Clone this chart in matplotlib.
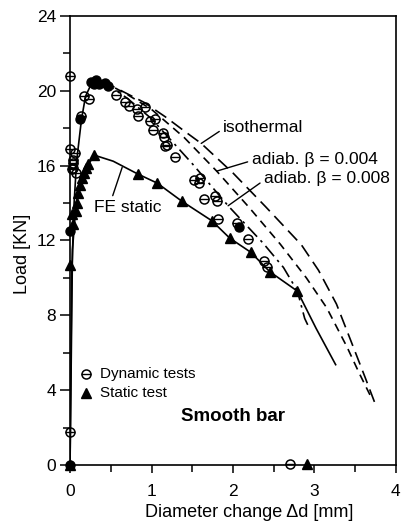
import matplotlib.pyplot as plt
from matplotlib.ticker import MultipleLocator

plt.rcParams['font.family'] = ['Liberation Sans', 'DejaVu Sans']

# dynamic tests, open circles (diameter change mm, load kN)
dyn_x = [0.0, 0.0, 0.04, 0.04, 0.0, 0.06, 0.04, 0.03, 0.07, 0.13, 0.17, 0.23,
         0.56, 0.68, 0.72, 0.82, 0.84, 0.92, 0.98, 1.04, 1.02, 1.14, 1.15, 1.17,
         1.19, 1.29, 1.52, 1.60, 1.58, 1.65, 1.78, 1.80, 1.81, 2.05, 2.19, 2.38,
         2.42, 2.70]
dyn_y = [20.8, 1.75, 15.87, 16.3, 16.9, 16.68, 16.15, 15.8, 15.6, 18.66, 19.69, 19.54,
         19.75, 19.38, 19.19, 19.03, 18.67, 19.1, 18.37, 18.48, 17.92, 17.76, 17.54, 17.04,
         17.09, 16.48, 15.24, 15.31, 15.04, 14.23, 14.38, 14.11, 13.13, 12.91, 12.08, 10.88,
         10.6, 0.05]
# dynamic tests that print as dark blobs
dynf_x = [0.0, 0.0, 0.12, 0.26, 0.30, 0.32, 0.36, 0.43, 0.47, 2.07]
dynf_y = [0.0, 12.5, 18.5, 20.48, 20.35, 20.55, 20.36, 20.43, 20.25, 12.72]

# static test triangles
stat_x = [0.0, 0.0, 0.04, 0.02, 0.07, 0.09, 0.10, 0.125, 0.15, 0.17, 0.20, 0.22,
          0.30, 0.83, 1.07, 1.37, 1.74, 1.96, 2.22, 2.45, 2.79, 2.91]
stat_y = [0.0, 10.7, 12.85, 13.4, 13.56, 14.0, 14.53, 14.97, 15.32, 15.59, 15.85, 16.1,
          16.55, 15.55, 15.06, 14.11, 13.05, 12.12, 11.36, 10.33, 9.29, 0.05]

# FE static
fe_x = [0.0, 0.03, 0.07, 0.12, 0.20, 0.30, 0.53, 0.83, 1.07, 1.37, 1.74, 1.96,
        2.22, 2.45, 2.79, 3.02, 3.26]
fe_y = [0.0, 11.5, 13.8, 15.0, 15.9, 16.55, 16.23, 15.55, 15.06, 14.1, 13.05, 12.12,
        11.36, 10.33, 9.29, 7.3, 5.36]

# rising branch shared by the dynamic FE runs
rise_x = [0.0, 0.02, 0.05, 0.08, 0.14, 0.19, 0.26, 0.40]
rise_y = [0.0, 10.0, 14.0, 16.2, 18.45, 19.7, 20.35, 20.5]

iso_x = [0.40, 0.65, 0.91, 1.17, 1.40, 1.61, 2.00, 2.40, 2.84, 3.05, 3.27, 3.45, 3.62, 3.76]
iso_y = [20.5, 19.95, 19.37, 18.6, 17.85, 17.18, 15.6, 13.8, 11.76, 10.4, 8.6, 6.6, 4.7, 3.1]

a004_x = [0.40, 0.70, 1.00, 1.40, 1.80, 2.20, 2.58, 2.90, 3.15, 3.40, 3.55, 3.70]
a004_y = [20.5, 19.8, 19.0, 17.5, 15.7, 13.75, 11.8, 10.0, 8.4, 6.3, 4.9, 3.58]

a008_x = [0.40, 0.70, 1.00, 1.50, 1.94, 2.37, 2.62, 2.79, 2.88, 2.94]
a008_y = [20.5, 19.6, 18.5, 16.1, 13.85, 11.85, 10.55, 9.3, 7.83, 7.28]

fig = plt.figure(figsize=(4.12, 5.26), dpi=100)
ax = fig.add_axes([0.170, 0.116, 0.791, 0.854])

lw = 1.2
ax.plot(fe_x, fe_y, color='k', lw=lw)
ax.plot(rise_x, rise_y, color='k', lw=lw)
ax.plot(iso_x, iso_y, color='k', lw=lw, dashes=(8, 4))
ax.plot(a004_x, a004_y, color='k', lw=lw, dashes=(5, 3.5))
ax.plot(a008_x, a008_y, color='k', lw=lw, dashes=(8, 3, 1.5, 3))

ax.plot(dyn_x, dyn_y, 'o', ms=6.5, mfc='none', mec='k', mew=1.1, clip_on=False, zorder=4)
ax.plot(dyn_x, dyn_y, '_', ms=6.5, color='k', mew=1.0, clip_on=False, zorder=4)
ax.plot(dynf_x, dynf_y, 'o', ms=6.5, color='k', clip_on=False, zorder=4)
ax.plot(stat_x, stat_y, '^', ms=6.5, color='k', clip_on=False, zorder=5)

# labels on the curves
arrow = dict(arrowstyle='-', lw=1.0, color='k', shrinkA=1, shrinkB=0)
ax.annotate('isothermal', xy=(1.61, 17.18), xytext=(1.88, 17.8), fontsize=12.5,
            va='baseline', arrowprops=dict(arrow, relpos=(0, 0.4)))
ax.annotate('adiab. β = 0.004', xy=(1.80, 15.7), xytext=(2.23, 16.1), fontsize=12.5,
            va='baseline', arrowprops=dict(arrow, relpos=(0, 0.4)))
ax.annotate('adiab. β = 0.008', xy=(1.94, 13.85), xytext=(2.38, 15.05), fontsize=12.5,
            va='baseline', arrowprops=dict(arrow, relpos=(0, 0.4)))
ax.annotate('FE static', xy=(0.64, 15.9), xytext=(0.30, 13.53), fontsize=12.5,
            va='baseline', arrowprops=dict(arrow, relpos=(0.25, 1.0)))
ax.text(1.36, 2.36, 'Smooth bar', fontsize=13.5, fontweight='bold', va='baseline')

# legend drawn by hand, like the original
ax.plot([0.2], [4.88], 'o', ms=6.5, mfc='none', mec='k', mew=1.1)
ax.plot([0.2], [4.88], '_', ms=6.5, color='k', mew=1.0)
ax.plot([0.2], [3.82], '^', ms=6.5, color='k')
ax.text(0.37, 4.88, 'Dynamic tests', fontsize=11, va='center')
ax.text(0.37, 3.82, 'Static test', fontsize=11, va='center')

ax.set_xlim(0, 4)
ax.set_ylim(0, 24)
ax.xaxis.set_major_locator(MultipleLocator(1))
ax.xaxis.set_minor_locator(MultipleLocator(0.5))
ax.yaxis.set_major_locator(MultipleLocator(4))
ax.yaxis.set_minor_locator(MultipleLocator(2))
ax.tick_params(axis='x', which='major', direction='out', length=6, width=1.1, pad=8, labelsize=12.5)
ax.tick_params(axis='x', which='minor', direction='out', length=5, width=1.1)
ax.tick_params(axis='y', which='major', direction='out', length=7, width=1.1, pad=3, labelsize=12.5)
ax.tick_params(axis='y', which='minor', direction='out', length=5, width=1.1)
for s in ax.spines.values():
    s.set_linewidth(1.2)

ax.set_xlabel('Diameter change Δd [mm]', fontsize=13, labelpad=3, x=0.55)
ax.set_ylabel('Load [KN]', fontsize=13, labelpad=4, y=0.47)

fig.savefig('out.png', dpi=100)
